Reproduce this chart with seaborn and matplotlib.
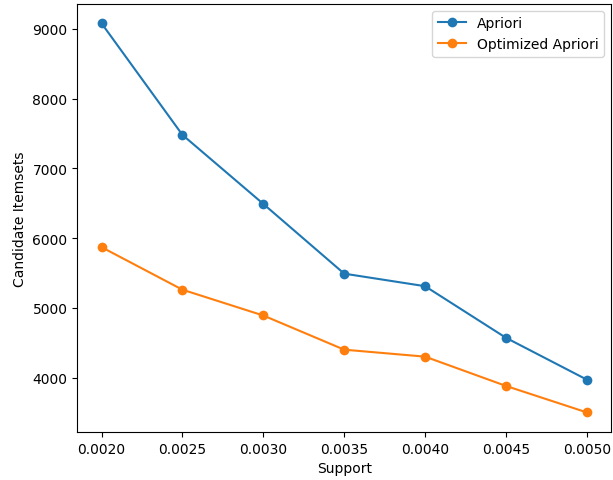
import matplotlib
matplotlib.use("Agg")
import matplotlib.pyplot as plt
import seaborn as sns
import pandas as pd

# support thresholds and candidate itemset counts
support = [0.0020, 0.0025, 0.0030, 0.0035, 0.0040, 0.0045, 0.0050]
apriori = [9080, 7480, 6490, 5490, 5310, 4570, 3970]
optimized = [5870, 5260, 4890, 4400, 4300, 3880, 3500]

df = pd.DataFrame({
    "Support": support * 2,
    "Candidate Itemsets": apriori + optimized,
    "Algorithm": ["Apriori"] * len(support) + ["Optimized Apriori"] * len(support),
})

fig, ax = plt.subplots(figsize=(6.13, 4.81), dpi=100)
sns.lineplot(data=df, x="Support", y="Candidate Itemsets", hue="Algorithm",
             marker="o", markersize=7, markeredgewidth=0,
             palette=["#1f77b4", "#ff7f0e"], ax=ax)
ax.set_xticks(support)
ax.set_xticklabels([f"{s:.4f}" for s in support])
ax.legend(title=None, loc="upper right")
fig.subplots_adjust(left=0.126, right=0.997, top=0.99, bottom=0.10)
fig.savefig("out.png", dpi=100)
